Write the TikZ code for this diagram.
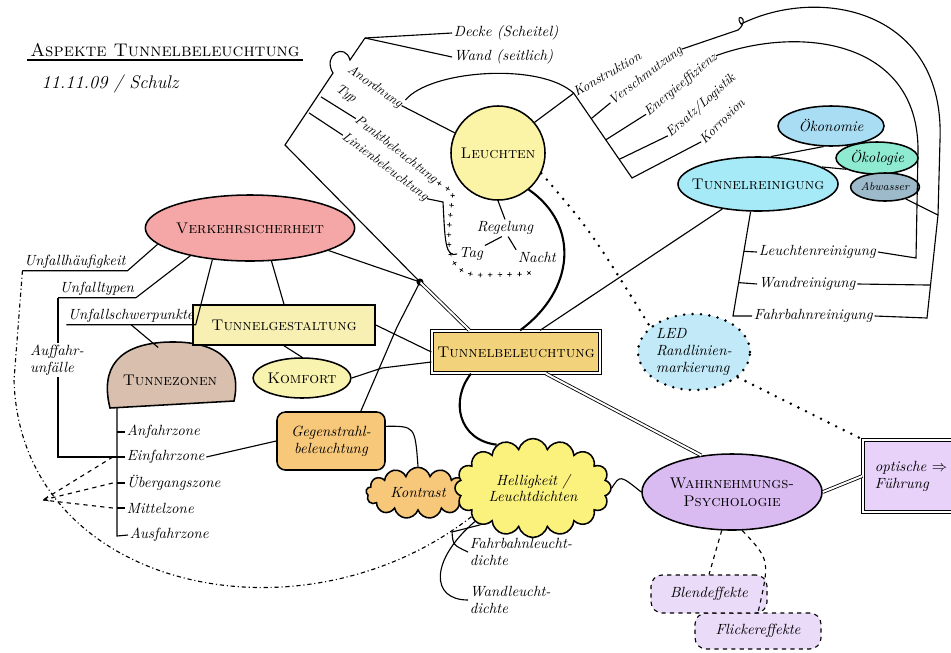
\documentclass[tikz,border=0pt]{standalone}
\usetikzlibrary{shapes.geometric,shapes.symbols,decorations.markings,calc}
\definecolor{leuY}{HTML}{FBF3A5}
\definecolor{tbY}{HTML}{F2D27A}
\definecolor{vsR}{HTML}{F4A7A6}
\definecolor{tgY}{HTML}{F8F0B2}
\definecolor{tzB}{HTML}{D8BFAE}
\definecolor{kfY}{HTML}{F8F3AE}
\definecolor{gsO}{HTML}{F8C87A}
\definecolor{hlY}{HTML}{FBF27E}
\definecolor{wpL}{HTML}{D9BBF2}
\definecolor{ofL}{HTML}{E8D2FA}
\definecolor{ledB}{HTML}{C1E9F8}
\definecolor{blL}{HTML}{EADBF8}
\definecolor{trC}{HTML}{A6EAF7}
\definecolor{okC}{HTML}{A9DDF3}
\definecolor{olG}{HTML}{8FEAD2}
\definecolor{awG}{HTML}{9CBACA}
\begin{document}
\begin{tikzpicture}[x=0.025cm, y=-0.025cm, >=stealth, line width=0.8pt,
  hub/.style={draw, line width=1.1pt, font=\fontsize{11}{13}\selectfont\scshape, align=center, inner sep=1pt},
  lbl/.style={font=\fontsize{10.5}{12}\selectfont\itshape, inner sep=1pt, align=left},
  slant/.style={font=\fontsize{9.5}{11}\selectfont\itshape, inner sep=0pt},
  hand/.style={font=\fontsize{10.5}{12}\selectfont\itshape},
  bigdots/.style={line width=2pt, line cap=round, dash pattern=on 0pt off 6pt},
  plusline/.style={postaction={decorate}, decoration={markings, mark=between positions 0.02 and 0.98 step 7pt with {\draw[line width=0.5pt] (-1.6pt,0) -- (1.6pt,0) (0,-1.6pt) -- (0,1.6pt);}}},
  dbl/.style={double, double distance=1.4pt, line width=0.6pt}]
\useasboundingbox (0,0) rectangle (951,652);

\node[font=\fontsize{13}{15}\selectfont\scshape, inner sep=2pt] (title) at (165,50) {Aspekte Tunnelbeleuchtung};
\draw (title.south west) -- (title.south east);
\node[lbl, font=\fontsize{13}{15}\selectfont\itshape] (date) at (110,84) {11.11.09 / Schulz};

\node[hub, circle, fill=leuY, minimum size=2.35cm] (leu) at (498,153) {Leuchten};
\node[hub, fill=tbY, double, double distance=1.5pt, line width=0.9pt, minimum width=4.2cm, minimum height=1.05cm] (tb) at (516,352) {Tunnelbeleuchtung};
\node[hub, ellipse, fill=vsR, inner sep=0pt, minimum width=5cm, minimum height=1.65cm] (vs) at (250,228) {Verkehrsicherheit};
\draw[line width=1.1pt, fill=tzB] (110,408) .. controls (100,368) and (118,343) .. (170,342) .. controls (222,341) and (242,365) .. (234,401) -- cycle;
\node[font=\fontsize{11}{13}\selectfont\scshape, minimum width=3.1cm, minimum height=1.6cm] (tz) at (170,380) {Tunnezonen};
\node[hub, fill=tgY, minimum width=4.55cm, minimum height=1cm] (tg) at (284,325) {Tunnelgestaltung};
\node[hub, ellipse, fill=kfY, inner sep=0pt, minimum width=2.2cm, minimum height=1cm] (kf) at (302,378) {Komfort};
\node[hub, hand, rounded corners=6pt, fill=gsO, minimum width=2.7cm, minimum height=1.45cm] (gs) at (331,441) {Gegenstrahl-\\beleuchtung};
\node[hub, hand, cloud, cloud puffs=13, aspect=2.2, fill=gsO, minimum width=2.6cm, minimum height=1.15cm] (ko) at (418,493) {Kontrast};
\node[hub, hand, cloud, cloud puffs=16, aspect=1.6, fill=hlY, minimum width=3.9cm, minimum height=2.4cm] (hl) at (533,488) {Helligkeit /\\Leuchtdichten};
\node[hub, ellipse, fill=wpL, inner sep=0pt, minimum width=4.5cm, minimum height=1.9cm] (wp) at (732,492) {Wahrnehmungs-\\Psychologie};
\node[hub, hand, align=left, fill=ofL, double, double distance=1.5pt, line width=0.9pt, minimum width=2.4cm, minimum height=1.8cm] (of) at (911,476) {optische $\Rightarrow$\\Führung};
\node[draw, bigdots, ellipse, fill=ledB, lbl, inner sep=0pt, minimum width=2.8cm, minimum height=1.9cm] (led) at (694,352) {LED\\Randlinien-\\markierung};
\node[draw, dashed, lbl, fill=blL, rounded corners=8pt, minimum width=3.15cm, minimum height=0.9cm] (fl) at (758,631) {Flickereffekte};
\node[draw, dashed, lbl, fill=blL, rounded corners=8pt, minimum width=2.9cm, minimum height=0.95cm] (bl) at (709,594) {Blendeffekte};
\node[hub, hand, ellipse, fill=okC, inner sep=0pt, minimum width=2.65cm, minimum height=1cm] (ok) at (831,126) {Ökonomie};
\node[hub, ellipse, fill=trC, inner sep=0pt, inner xsep=-8pt, minimum width=4cm, minimum height=1.35cm] (tr) at (758,184) {Tunnelreinigung};
\node[hub, hand, ellipse, fill=olG, inner sep=0pt, minimum width=2.05cm, minimum height=0.8cm] (ol) at (877,158) {Ökologie};
\node[hub, ellipse, fill=awG, inner sep=0pt, font=\fontsize{8}{9}\selectfont\itshape, minimum width=1.6cm, minimum height=0.7cm] (aw) at (885,187) {Abwasser};

\node[lbl, anchor=west] (dk) at (452,33) {Decke (Scheitel)};
\node[lbl, anchor=west] (wd) at (452,57) {Wand (seitlich)};
\node[slant, rotate=-35] (an) at (375,87) {Anordnung};
\node[slant, rotate=-35] (ty) at (346,94) {Typ};
\node[slant, rotate=-38] (pb) at (396,150) {Punktbeleuchtung};
\node[slant, rotate=-37] (lb) at (385,167) {Linienbeleuchtung};
\node[lbl] (rg) at (505,228) {Regelung};
\node[lbl] (tag) at (471,254) {Tag};
\node[lbl] (na) at (537,257) {Nacht};
\node[slant, rotate=30] (kon) at (607,74) {Konstruktion};
\node[slant, rotate=37] (vsm) at (646,76) {Verschmutzung};
\node[slant, rotate=40] (ene) at (681,85) {Energieeffizienz};
\node[slant, rotate=42] (ers) at (701,106) {Ersatz/Logistik};
\node[slant, rotate=45] (kor) at (722,121) {Korrosion};
\node[lbl, anchor=west] (lr) at (757,252) {Leuchtenreinigung};
\node[lbl, anchor=west] (wr) at (757,284) {Wandreinigung};
\node[lbl, anchor=west] (fr) at (752,316) {Fahrbahnreinigung};
\node[lbl] (uh) at (75,262) {Unfallhäufigkeit};
\node[lbl] (ut) at (97,289) {Unfalltypen};
\node[lbl] (us) at (131,316) {Unfallschwerpunkte};
\node[lbl, anchor=west] (az) at (125,432) {Anfahrzone};
\node[lbl, anchor=west] (ez) at (125,457) {Einfahrzone};
\node[lbl, anchor=west] (uz) at (125,483) {Übergangszone};
\node[lbl, anchor=west] (mz) at (125,508) {Mittelzone};
\node[lbl, anchor=west] (aus) at (128,535) {Ausfahrzone};
\node[lbl, anchor=west] (fd) at (468,552) {Fahrbahnleucht-\\dichte};
\node[lbl, anchor=west] (wld) at (468,600) {Wandleucht-\\dichte};

\coordinate (jn) at (420,282);
\coordinate (sp0) at (285,145);
\coordinate (sp1) at (365,38);
\coordinate (ksp) at (632,178);
\coordinate (trb) at (733,316);
\coordinate (ob1) at (938,215);
\coordinate (ob2) at (927,318);
\coordinate (ib) at (916,258);
\coordinate (tzt) at (117,408);
\coordinate (tzb) at (117,536);
\coordinate (cv) at (43,500);

\fill (jn) circle (2.5pt);
\draw (vs.344) -- (jn);
\draw[dbl] (jn) -- ($(tb.north west)+(38,0)$);
\draw (jn) -- (sp0) -- (333,73) .. controls (322,55) and (345,42) .. (350,60) -- (sp1);
\draw (sp1) -- (dk.west);
\draw (sp1) -- (wd.west);
\draw ($(sp0)!0.3!(sp1)$) -- (lb.west);
\draw ($(sp0)!0.45!(sp1)$) -- (pb.west);
\draw (an.east) -- (leu.155);
\draw (an.north east) .. controls (430,70) and (540,62) .. (kon.west);
\draw (leu.40) -- (kon.west);
\draw (kon.west) -- (ksp) -- (kor.west);
\draw ($(kon.west)!0.3!(ksp)$) -- (vsm.west);
\draw ($(kon.west)!0.55!(ksp)$) -- (ene.west);
\draw ($(kon.west)!0.78!(ksp)$) -- (ers.west);
\path[plusline] (pb.east) -- (453,192) .. controls (448,235) and (440,274) .. (480,275) -- (528,274) -- (na.south);
\draw (lb.east) -- (443,202) .. controls (445,240) and (445,258) .. (tag.west);
\draw (leu.south) -- (rg.north);
\draw (rg.250) -- (tag.north east);
\draw (rg.290) -- (na.north west);
\draw[line width=1.5pt] (leu.-50) .. controls (580,225) and (575,290) .. ($(tb.north)+(4,0)$);
\draw[line width=1.5pt] ($(tb.south)+(-45,0)$) .. controls (450,400) and (458,440) .. (hl.130);
\draw[dbl] ($(tb.south)+(30,0)$) -- (wp.130);
\draw ($(tb.north)+(24,0)$) -- (tr.215);
\draw[bigdots] (leu.-25) .. controls (590,230) .. (led.150);
\draw[bigdots] (led.-30) -- (of.north west);
\draw (hl.east) .. controls (620,475) .. (wp.west);
\draw[dbl] (wp.east) -- (of.west);
\draw[dashed] (wp.255) -- (bl.north);
\draw[dashed] (wp.285) .. controls (770,560) .. (fl.north);
\draw (tg.east) -- (tb.west);
\draw (kf.east) -- (382,368) -- ($(tb.west)+(0,10)$);
\draw (jn) -- (397,327) -- (gs.45);
\draw (vs.303) -- (tg.north);
\draw (tg.south) -- (kf.north);
\draw (uh.south west) -- (uh.south east) -- (vs.190);
\draw (ut.south west) -- (ut.south east) -- (vs.205);
\draw (us.south west) -- (us.south east) -- (vs.220);
\draw (us.south) -- (tz.110);
\draw (ut.south west) |- (ez.west);
\draw (tzt) -- (tzb) -- (aus.west);
\draw (az.west -| tzt) -- (az.west);
\draw (ez.west -| tzt) -- (ez.west);
\draw (uz.west -| tzt) -- (uz.west);
\draw (mz.west -| tzt) -- (mz.west);
\draw[dashed] ([xshift=-3pt]ez.west -| tzt) -- (cv);
\draw[dashed, ->] ([xshift=-3pt]uz.west -| tzt) -- (cv);
\draw[dashed] ([xshift=-3pt]mz.west -| tzt) -- (cv);
\draw[dashdotted] (uh.south west) -- (14,380) .. controls (20,590) and (300,650) .. (hl.205);
\draw (ez.east) -- (gs.west);
\draw (gs.15) .. controls (415,426) .. (ko.north);
\draw (hl.215) -- (452,532) .. controls (453,545) .. (fd.west);
\draw (hl.210) .. controls (430,560) and (430,600) .. (wld.west);
\draw (tr.65) -- (ok.250);
\draw (tr.15) -- (ol.200);
\draw (tr.255) -- (trb) -- (fr.west);
\draw ($(tr.255)!0.38!(trb)$) -- (lr.west);
\draw ($(tr.255)!0.68!(trb)$) -- (wr.west);
\draw (vsm.east) -- (738,30) .. controls (752,18) and (733,12) .. (741,24) .. controls (820,-15) and (945,10) .. (940,140) -- (ob1) -- (ob2) -- (fr.east);
\draw (ene.east) .. controls (800,25) and (918,40) .. (918,150) -- (ib) -- (lr.east);
\draw (aw.-30) -- (ob1);
\draw (wr.east) -- ($(ob1)!0.68!(ob2)$);
\node[lbl, fill=white] (au) at (57,360) {Auffahr-\\unfälle};
\end{tikzpicture}
\end{document}
